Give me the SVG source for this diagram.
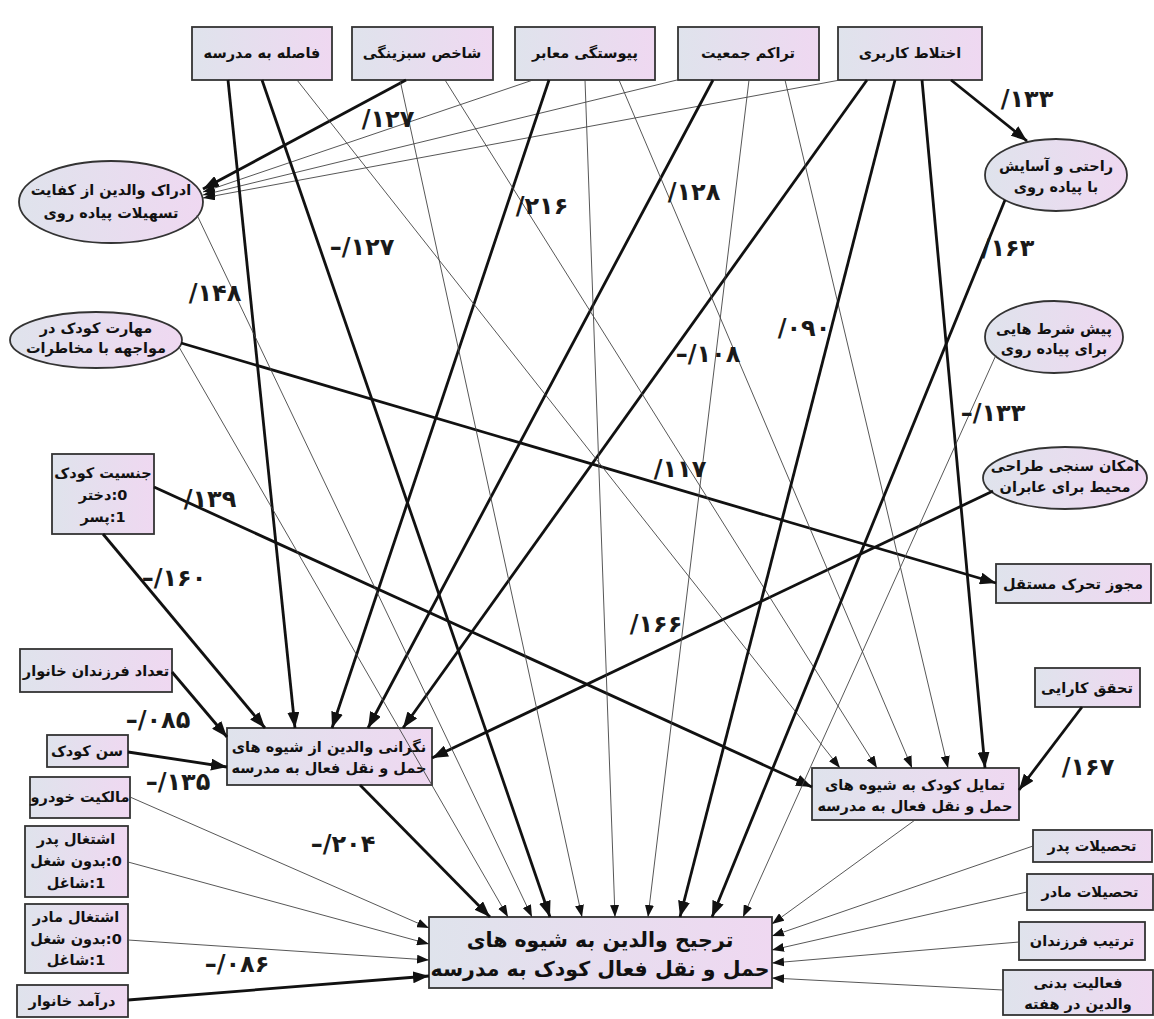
<svg xmlns="http://www.w3.org/2000/svg" width="1154" height="1019" viewBox="0 0 1154 1019">
<defs>
<linearGradient id="g" x1="0" y1="0" x2="1" y2="0">
<stop offset="0" stop-color="#dfe3ec"/>
<stop offset="1" stop-color="#efd8f1"/>
</linearGradient>
<marker id="ah" markerUnits="userSpaceOnUse" markerWidth="12" markerHeight="9" refX="12" refY="4.5" orient="auto"><path d="M0,0 L12,4.5 L0,9 z" fill="#111"/></marker>
<marker id="ahT" markerUnits="userSpaceOnUse" markerWidth="16" markerHeight="12" refX="16" refY="6" orient="auto"><path d="M0,0 L16,6 L0,12 z" fill="#111"/></marker>
<style>
.n{fill:url(#g);stroke:#333;stroke-width:1.8}
.nt{font-family:"DejaVu Sans",sans-serif;font-weight:bold;font-size:14.5px;text-anchor:middle;fill:#111}
.rtl{direction:rtl;unicode-bidi:embed}
.big{font-size:20.5px}
.t{stroke:#444;stroke-width:0.9;fill:none;marker-end:url(#ah)}
.T{stroke:#111;stroke-width:2.8;fill:none;marker-end:url(#ahT)}
.lb{font-family:"DejaVu Sans",sans-serif;font-weight:bold;font-size:24px;text-anchor:middle;fill:#1a1a1a;direction:ltr;unicode-bidi:bidi-override}
</style>
</defs>
<rect width="1154" height="1019" fill="#fff"/>

<g id="nodes">
<g id="n-fasele"><rect class="n" x="192" y="27" width="140" height="53"/><text class="nt" x="262" y="58">فاصله به مدرسه</text></g>
<g id="n-shakhes"><rect class="n" x="352" y="27" width="141" height="53"/><text class="nt" x="422" y="58">شاخص سبزینگی</text></g>
<g id="n-peyvastegi"><rect class="n" x="515" y="27" width="140" height="53"/><text class="nt" x="585" y="58">پیوستگی معابر</text></g>
<g id="n-tarakom"><rect class="n" x="678" y="27" width="141" height="53"/><text class="nt" x="748" y="58">تراکم جمعیت</text></g>
<g id="n-ekhtelat"><rect class="n" x="838" y="27" width="144" height="53"/><text class="nt" x="910" y="58">اختلاط کاربری</text></g>

<g id="n-edrak"><ellipse class="n" cx="111" cy="202" rx="92" ry="41"/><text class="nt" x="111" y="195">ادراک والدین از کفایت</text><text class="nt" x="111" y="218">تسهیلات پیاده روی</text></g>
<g id="n-maharat"><ellipse class="n" cx="96" cy="340" rx="86" ry="28"/><text class="nt" x="96" y="333">مهارت کودک در</text><text class="nt" x="96" y="353">مواجهه با مخاطرات</text></g>
<g id="n-rahati"><ellipse class="n" cx="1056" cy="175" rx="71" ry="36"/><text class="nt" x="1056" y="171">راحتی و آسایش</text><text class="nt" x="1056" y="192">با پیاده روی</text></g>
<g id="n-pishshart"><ellipse class="n" cx="1054" cy="337" rx="69" ry="36"/><text class="nt" x="1054" y="334">پیش شرط هایی</text><text class="nt" x="1054" y="354">برای پیاده روی</text></g>
<g id="n-emkan"><ellipse class="n" cx="1065" cy="478" rx="82" ry="31"/><text class="nt" x="1065" y="471">امکان سنجی طراحی</text><text class="nt" x="1065" y="492">محیط برای عابران</text></g>

<g id="n-jensiat"><rect class="n" x="52" y="454" width="102" height="80"/><text class="nt" x="103" y="478">جنسیت کودک</text><text class="nt rtl" x="103" y="500">&#x200F;0:دختر</text><text class="nt rtl" x="103" y="522">&#x200F;1:پسر</text></g>
<g id="n-mojavez"><rect class="n" x="996" y="564" width="155" height="39"/><text class="nt" x="1073" y="589">مجوز تحرک مستقل</text></g>
<g id="n-tahaghogh"><rect class="n" x="1035" y="668" width="105" height="39"/><text class="nt" x="1087" y="693">تحقق کارایی</text></g>
<g id="n-tedad"><rect class="n" x="20" y="649" width="152" height="43"/><text class="nt" x="96" y="676">تعداد فرزندان خانوار</text></g>
<g id="n-negarani"><rect class="n" x="227" y="728" width="205" height="57"/><text class="nt" x="329" y="752">نگرانی والدین از شیوه های</text><text class="nt" x="329" y="773">حمل و نقل فعال به مدرسه</text></g>
<g id="n-tamayol"><rect class="n" x="812" y="768" width="207" height="52"/><text class="nt" x="915" y="790">تمایل کودک به شیوه های</text><text class="nt" x="915" y="811">حمل و نقل فعال به مدرسه</text></g>
<g id="n-sen"><rect class="n" x="47" y="735" width="81" height="32"/><text class="nt" x="87" y="756">سن کودک</text></g>
<g id="n-malekiat"><rect class="n" x="30" y="777" width="100" height="41"/><text class="nt" x="80" y="802">مالکیت خودرو</text></g>
<g id="n-pedar"><rect class="n" x="25" y="826" width="103" height="71"/><text class="nt" x="76" y="844">اشتغال پدر</text><text class="nt rtl" x="76" y="866">&#x200F;0:بدون شغل</text><text class="nt rtl" x="76" y="888">&#x200F;1:شاغل</text></g>
<g id="n-madar"><rect class="n" x="25" y="904" width="103" height="69"/><text class="nt" x="76" y="922">اشتغال مادر</text><text class="nt rtl" x="76" y="944">&#x200F;0:بدون شغل</text><text class="nt rtl" x="76" y="965">&#x200F;1:شاغل</text></g>
<g id="n-daramad"><rect class="n" x="17" y="985" width="111" height="32"/><text class="nt" x="72" y="1006">درآمد خانوار</text></g>
<g id="n-tarjih"><rect class="n" x="429" y="917" width="343" height="71"/><text class="nt big" x="600" y="947">ترجیح والدین به شیوه های</text><text class="nt big" x="600" y="976">حمل و نقل فعال کودک به مدرسه</text></g>
<g id="n-tahsilat-pedar"><rect class="n" x="1033" y="830" width="119" height="32"/><text class="nt" x="1092" y="851">تحصیلات پدر</text></g>
<g id="n-tahsilat-madar"><rect class="n" x="1027" y="874" width="126" height="36"/><text class="nt" x="1090" y="897">تحصیلات مادر</text></g>
<g id="n-tartib"><rect class="n" x="1019" y="922" width="126" height="38"/><text class="nt" x="1082" y="946">ترتیب فرزندان</text></g>
<g id="n-faaliat"><rect class="n" x="1003" y="970" width="150" height="45"/><text class="nt" x="1078" y="988">فعالیت بدنی</text><text class="nt" x="1078" y="1009">والدین در هفته</text></g>
</g>

<g id="connectors">
<path class="T" d="M406,80 L203,189"/>
<path class="t" d="M533,80 L203,192"/>
<path class="t" d="M677,80 L203,195"/>
<path class="t" d="M840,80 L203,198"/>
<path class="T" d="M103,534 L265,728"/>
<path class="T" d="M228,80 L295,728"/>
<path class="T" d="M549,80 L332,728"/>
<path class="T" d="M713,80 L368,728"/>
<path class="T" d="M867,80 L403,728"/>
<path class="T" d="M172,672 L227,737"/>
<path class="T" d="M128,752 L227,767"/>
<path class="T" d="M993,491 L432,758"/>
<path class="T" d="M181,343 L996,583"/>
<path class="T" d="M951,80 L1027,141"/>
<path class="t" d="M297,80 L840,768"/>
<path class="t" d="M445,80 L877,768"/>
<path class="t" d="M619,80 L912,768"/>
<path class="t" d="M785,80 L948,768"/>
<path class="T" d="M922,80 L985,768"/>
<path class="T" d="M154,487 L812,787"/>
<path class="T" d="M1082,707 L1019,790"/>
<path class="T" d="M360,785 L490,917"/>
<path class="t" d="M179,347 L508,917"/>
<path class="t" d="M197,215 L532,917"/>
<path class="T" d="M262,80 L550,917"/>
<path class="t" d="M400,80 L582,917"/>
<path class="t" d="M585,80 L615,917"/>
<path class="t" d="M749,80 L648,917"/>
<path class="T" d="M895,80 L680,917"/>
<path class="T" d="M1005,200 L712,917"/>
<path class="t" d="M996,355 L743,917"/>
<path class="t" d="M130,797 L429,928"/>
<path class="t" d="M128,862 L429,944"/>
<path class="t" d="M128,940 L429,960"/>
<path class="T" d="M128,1000 L429,976"/>
<path class="t" d="M915,820 L772,924"/>
<path class="t" d="M1033,846 L772,936"/>
<path class="t" d="M1027,892 L772,950"/>
<path class="t" d="M1019,942 L772,963"/>
<path class="t" d="M1003,990 L772,978"/>
</g>

<g id="edge-labels">
<text class="lb" x="388" y="127">/۱۲۷</text>
<text class="lb" x="542" y="214">/۲۱۶</text>
<text class="lb" x="694" y="200">/۱۲۸</text>
<text class="lb" x="362" y="255">–/۱۲۷</text>
<text class="lb" x="215" y="301">/۱۴۸</text>
<text class="lb" x="1027" y="107">/۱۳۳</text>
<text class="lb" x="1008" y="256">/۱۶۳</text>
<text class="lb" x="804" y="336">/۰۹۰</text>
<text class="lb" x="708" y="362">–/۱۰۸</text>
<text class="lb" x="993" y="421">–/۱۳۳</text>
<text class="lb" x="680" y="477">/۱۱۷</text>
<text class="lb" x="210" y="507">/۱۳۹</text>
<text class="lb" x="174" y="586">–/۱۶۰</text>
<text class="lb" x="656" y="632">/۱۶۶</text>
<text class="lb" x="158" y="728">–/۰۸۵</text>
<text class="lb" x="1088" y="775">/۱۶۷</text>
<text class="lb" x="178" y="790">–/۱۳۵</text>
<text class="lb" x="343" y="852">–/۲۰۴</text>
<text class="lb" x="237" y="972">–/۰۸۶</text>
</g>
</svg>
